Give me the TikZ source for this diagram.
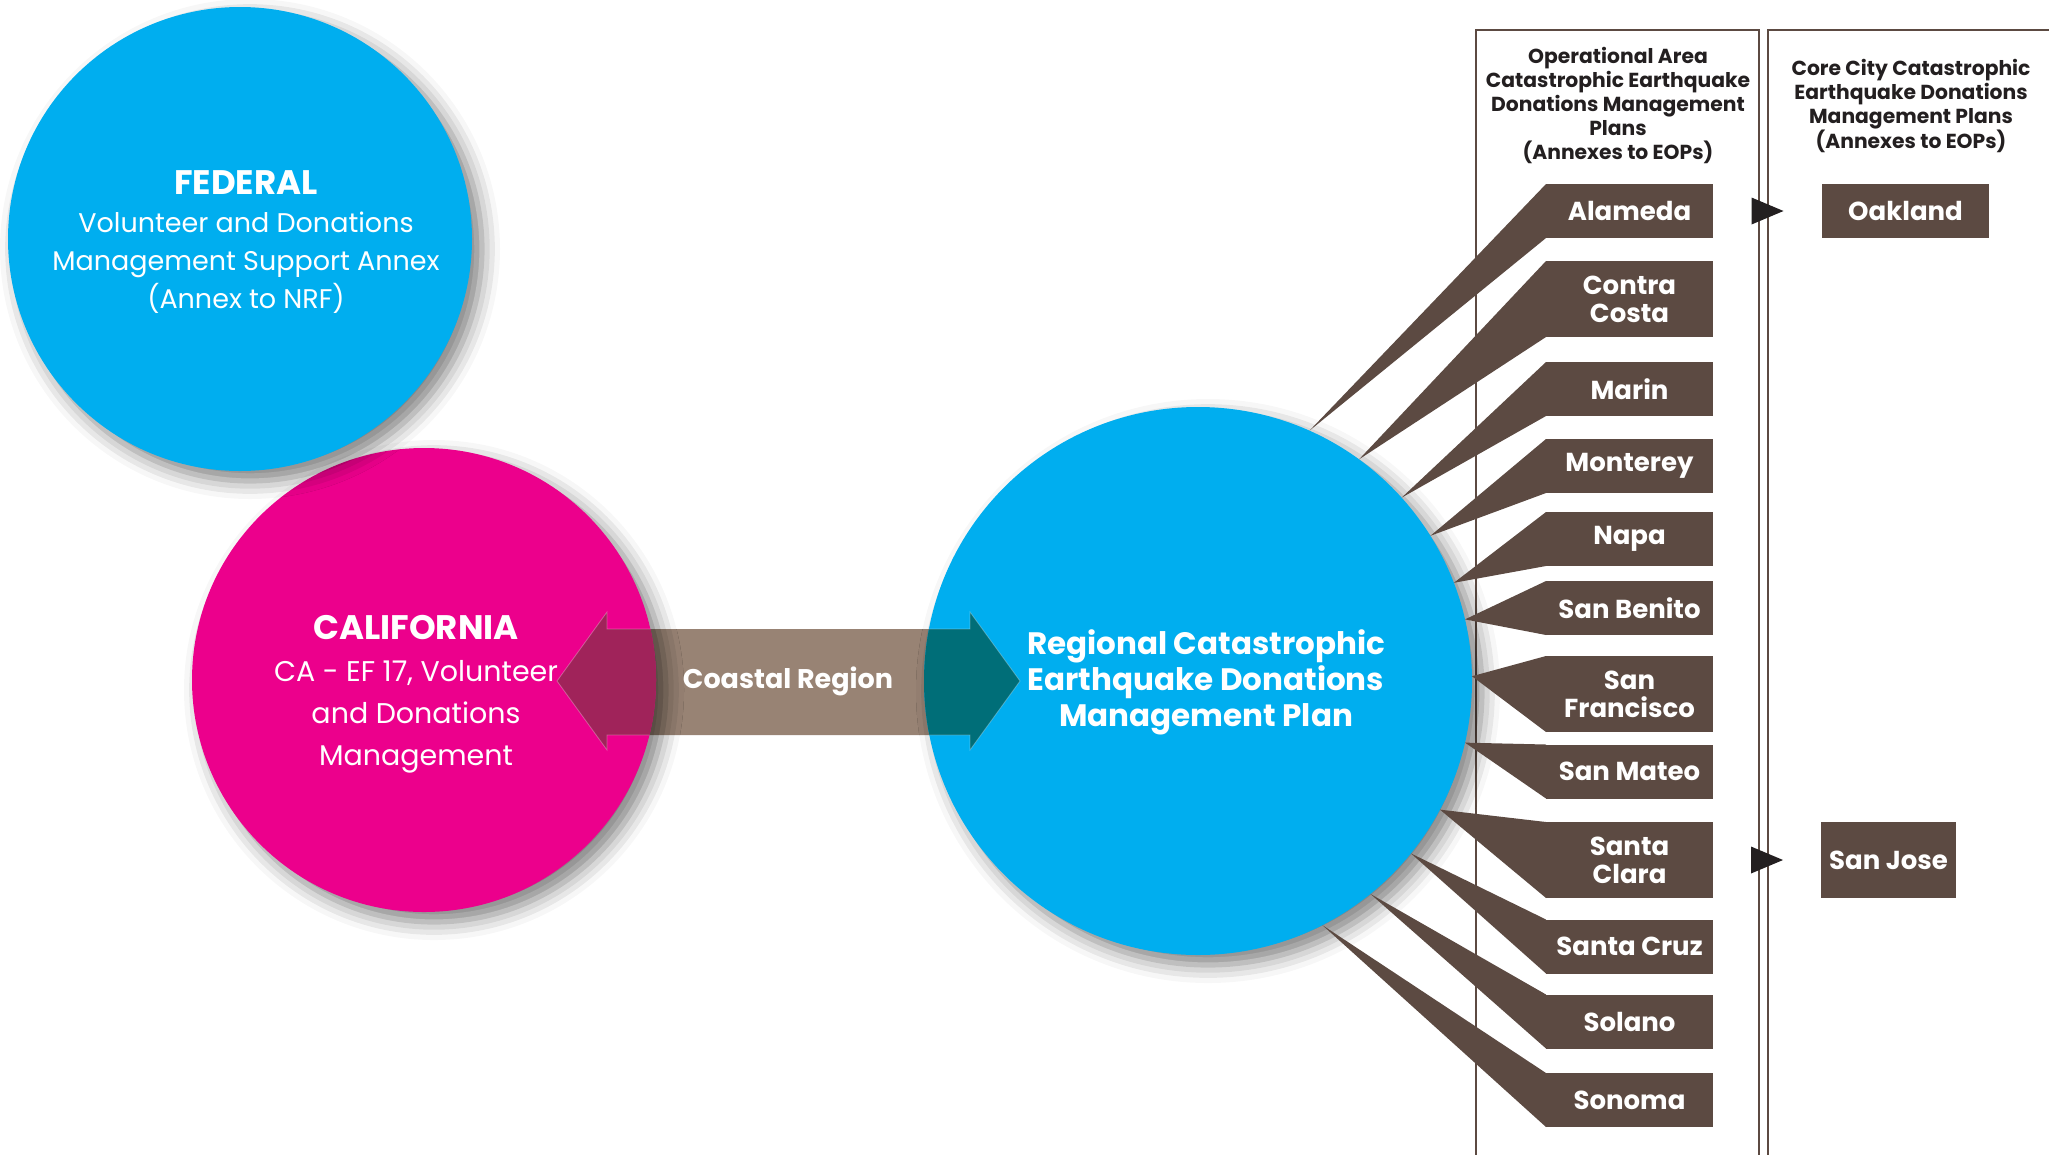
\documentclass[tikz,border=0pt]{standalone}
\usepackage{fontspec}
\setmainfont{Poppins}
\usetikzlibrary{calc, positioning, shapes, shadows, shadows.blur}

\definecolor{fedblue}{HTML}{00AEEF}
\definecolor{camagenta}{HTML}{EC008C}
\definecolor{boxbrown}{HTML}{5C4A42}
\definecolor{bandtaupe}{HTML}{988374}
\definecolor{bandmaroon}{HTML}{A0235A}
\definecolor{bandteal}{HTML}{006E78}
\definecolor{inkblack}{HTML}{231F20}

% arrow band between the state and the region
\newcommand{\bandpath}{(557,681) -- (607,612) -- (607,629) -- (970,629) -- (970,612) -- (1020,681)
    -- (970,750) -- (970,735) -- (607,735) -- (607,750) -- cycle}

\tikzset{
    plan/.style={circle, inner sep=0pt, outer sep=0pt, text=white, align=center,
        blur shadow={shadow xshift=10pt, shadow yshift=-10pt, shadow blur radius=18pt, shadow opacity=50}},
    plantext/.style={text=white, align=center},
    county/.style={rectangle, fill=boxbrown, text=white, align=center, inner sep=0pt, outer sep=0pt,
        minimum width=167pt, minimum height=54pt, font=\bfseries\fontsize{26}{28}\selectfont},
    tall/.style={minimum height=76pt},
    head/.style={text=inkblack, align=center, font=\bfseries\fontsize{20.3}{24}\selectfont},
    column/.style={draw=boxbrown, line width=2.6pt},
    beam/.style={fill=boxbrown},
    tip/.style={fill=inkblack}
}

\begin{document}
\begin{tikzpicture}[x=1pt, y=-1pt]
    \useasboundingbox (0,0) rectangle (2049,1154);

    % plan columns
    \draw[column] (1476,1200) |- (1759,30) -- (1759,1200);
    \draw[column] (1768,1200) |- (2100,30);

    \fill[bandtaupe] \bandpath;

    \node[plan, fill=camagenta, minimum size=464pt] (CA) at (424,680) {};
    \node[plan, fill=fedblue, minimum size=464pt] (FED) at (240,239) {};
    \node[plan, fill=fedblue, minimum size=548pt] (REG) at (1198,681) {};

    \begin{scope}
        \clip (CA) circle[radius=232];
        \fill[bandmaroon, draw=white, draw opacity=0.3, line width=0.8pt] \bandpath;
    \end{scope}
    \begin{scope}
        \clip (REG) circle[radius=274];
        \fill[bandteal, draw=white, draw opacity=0.3, line width=0.8pt] \bandpath;
    \end{scope}

    \node[plantext, font=\fontsize{27}{38}\selectfont] (fedtext) at (246,242)
        {{\bfseries\fontsize{34}{38}\selectfont FEDERAL}\\ Volunteer and Donations\\ Management Support Annex\\ (Annex to NRF)};
    \node[plantext, font=\fontsize{28.5}{42}\selectfont] (catext) at (416,694)
        {{\bfseries\fontsize{34}{42}\selectfont CALIFORNIA}\\ CA - EF 17, Volunteer\\ and Donations\\ Management};
    \node[plantext, font=\bfseries\fontsize{31}{36}\selectfont] (regtext) at (1206,682)
        {Regional Catastrophic\\ Earthquake Donations\\ Management Plan};
    \node[plantext, font=\bfseries\fontsize{27}{30}\selectfont] (coast) at (788,681) {Coastal Region};

    % counties
    \node[county] (alameda) at (1629.5,211) {Alameda};
    \node[county, tall] (contra) at (1629.5,299) {Contra\\ Costa};
    \node[county] (marin) at (1629.5,389) {Marin};
    \node[county] (monterey) at (1629.5,466) {Monterey};
    \node[county] (napa) at (1629.5,539) {Napa};
    \node[county] (benito) at (1629.5,608) {San Benito};
    \node[county, tall] (sanfran) at (1629.5,694) {San\\ Francisco};
    \node[county] (mateo) at (1629.5,771.5) {San Mateo};
    \node[county, tall] (clara) at (1629.5,860) {Santa\\ Clara};
    \node[county] (cruz) at (1629.5,946.5) {Santa Cruz};
    \node[county] (solano) at (1629.5,1021.5) {Solano};
    \node[county] (sonoma) at (1629.5,1100) {Sonoma};

    \fill[beam] (REG.66.7) -- (alameda.north west) -- (alameda.south west) -- cycle;
    \fill[beam] (REG.54.7) -- (contra.north west) -- (contra.south west) -- cycle;
    \fill[beam] (REG.42.1) -- (marin.north west) -- (marin.south west) -- cycle;
    \fill[beam] (REG.32.6) -- (monterey.north west) -- (monterey.south west) -- cycle;
    \fill[beam] (REG.21.3) -- (napa.north west) -- (napa.south west) -- cycle;
    \fill[beam] (REG.13.4) -- (benito.north west) -- (benito.south west) -- cycle;
    \fill[beam] (REG.1.9) -- (sanfran.north west) -- (sanfran.south west) -- cycle;
    \fill[beam] (REG.-13.9) -- (mateo.north west) -- (mateo.south west) -- cycle;
    \fill[beam] (REG.-28.4) -- (clara.north west) -- (clara.south west) -- cycle;
    \fill[beam] (REG.-39.7) -- (cruz.north west) -- (cruz.south west) -- cycle;
    \fill[beam] (REG.-51.8) -- (solano.north west) -- (solano.south west) -- cycle;
    \fill[beam] (REG.-63.3) -- (sonoma.north west) -- (sonoma.south west) -- cycle;

    % core cities
    \node[county, right=109pt of alameda] (oakland) {Oakland};
    \node[county, tall, minimum width=135pt, right=108pt of clara] (sanjose) {San Jose};

    \coordinate (oaktip) at ($(alameda.east)!0.5!(oakland.west)$);
    \coordinate (josetip) at ($(clara.east)!0.5!(sanjose.west)$);
    \fill[tip] (oaktip) ++(-16,-13.5) -- ++(32,13.5) -- ++(-32,13.5) -- cycle;
    \fill[tip] (josetip) ++(-16,-13.5) -- ++(32,13.5) -- ++(-32,13.5) -- cycle;

    \node[head] (opthead) at (1618,105)
        {Operational Area\\ Catastrophic Earthquake\\ Donations Management\\ Plans\\ (Annexes to EOPs)};
    \node[head] (cityhead) at (1911,106)
        {Core City Catastrophic\\ Earthquake Donations\\ Management Plans\\ (Annexes to EOPs)};
\end{tikzpicture}
\end{document}
